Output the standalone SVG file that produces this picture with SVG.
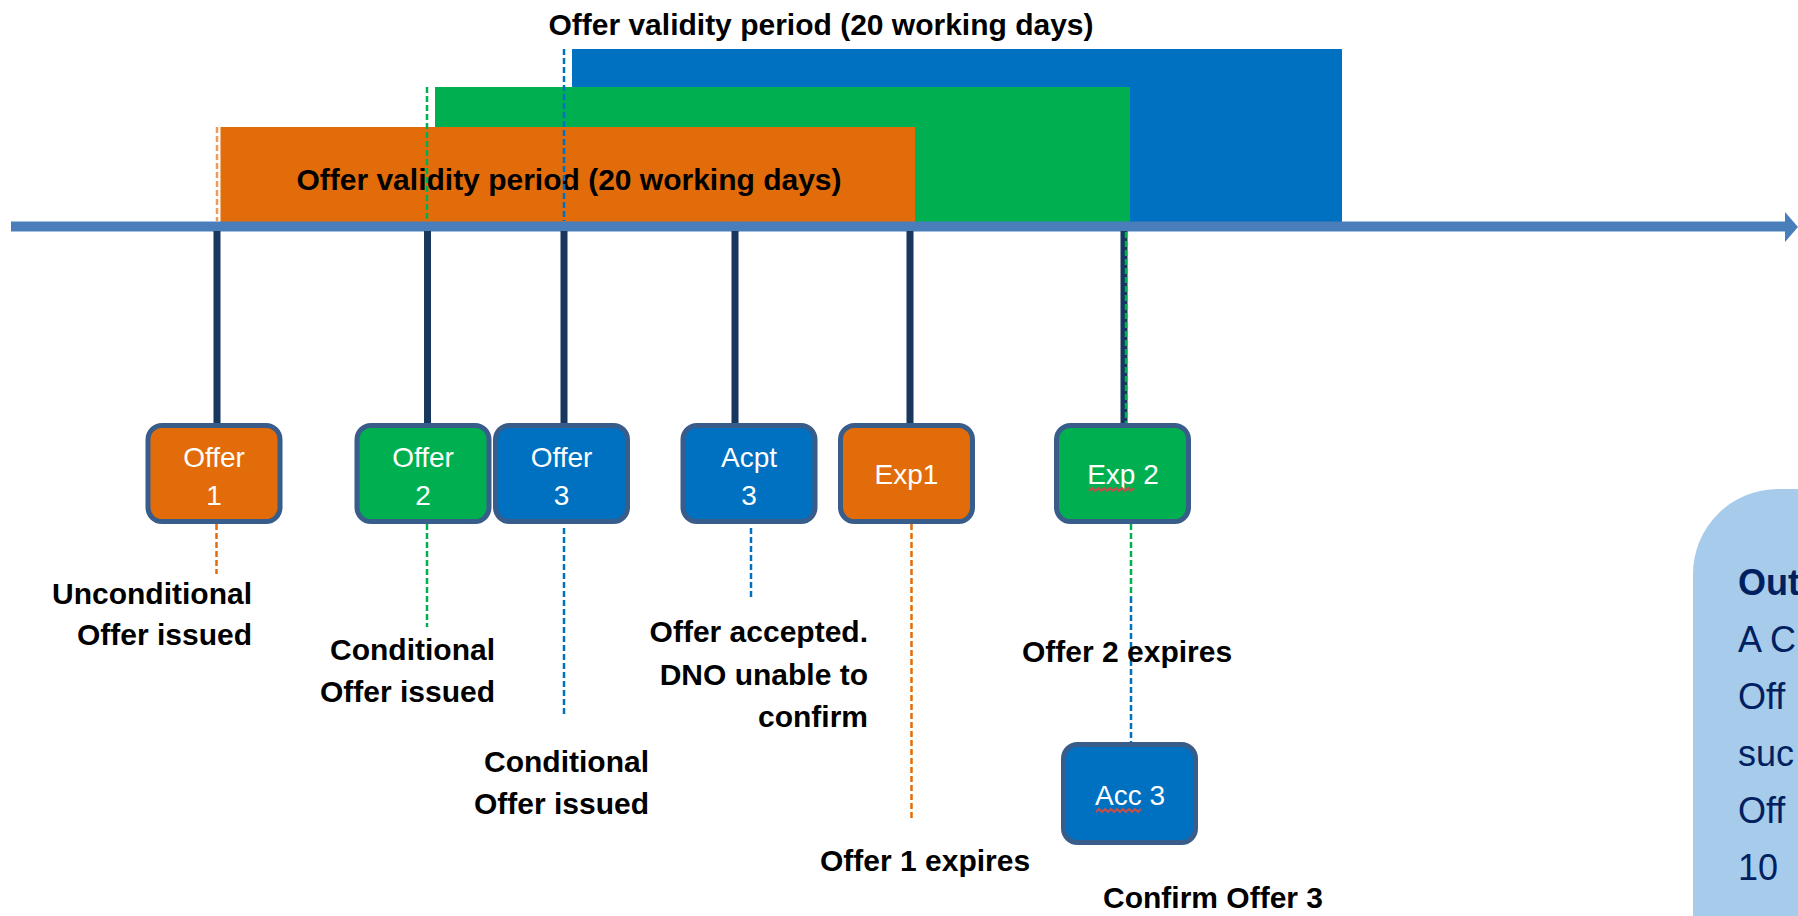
<svg xmlns="http://www.w3.org/2000/svg" width="1798" height="916" viewBox="0 0 1798 916">
<defs>
<style>
.lbl{font-family:"Liberation Sans",Arial,sans-serif;font-size:30px;font-weight:700;fill:#000}
.box{stroke:#385D8A;stroke-width:5}
.btxt{font-family:"Liberation Sans",Arial,sans-serif;font-size:28px;fill:#fff;text-anchor:middle}
.conn{stroke:#17375E;stroke-width:7;fill:none}
.dash{stroke-width:2.5;stroke-dasharray:6 3;fill:none}
.sq{stroke:#C0504D;stroke-width:2;fill:none}
.note{font-family:"Liberation Sans",Arial,sans-serif;font-size:36px;fill:#002060}
</style>
</defs>
<rect width="1798" height="916" fill="#fff"/>
<g id="validity-periods">
<rect x="572" y="49" width="770" height="173" fill="#0070C0"/>
<rect x="435" y="87" width="695" height="135" fill="#00B050"/>
<rect x="220.5" y="127" width="694.5" height="95" fill="#E36C0A"/>
<text class="lbl" x="821" y="35" text-anchor="middle">Offer validity period (20 working days)</text>
<text class="lbl" x="569" y="190" text-anchor="middle">Offer validity period (20 working days)</text>
</g>
<g id="connectors">
<line class="dash" x1="217" y1="127" x2="217" y2="221" stroke="#EE9A5A"/>
<line class="dash" x1="427" y1="87" x2="427" y2="221" stroke="#00B050"/>
<line class="dash" x1="564" y1="49" x2="564" y2="221" stroke="#0070C0"/>
<line x1="11" y1="226.5" x2="1786" y2="226.5" stroke="#4A7EBB" stroke-width="10"/>
<polygon points="1785,212 1798,227 1785,242" fill="#4A7EBB"/>
<line class="conn" x1="217" y1="231" x2="217" y2="424"/>
<line class="conn" x1="427.5" y1="231" x2="427.5" y2="424"/>
<line class="conn" x1="564" y1="231" x2="564" y2="424"/>
<line class="conn" x1="735" y1="231" x2="735" y2="424"/>
<line class="conn" x1="910" y1="231" x2="910" y2="424"/>
<line class="conn" x1="1124" y1="231" x2="1124" y2="424"/>
<line class="dash" x1="1126" y1="232" x2="1126" y2="424" stroke="#00B050" stroke-width="2"/>
<line class="dash" x1="216.5" y1="524" x2="216.5" y2="574" stroke="#E36C0A" stroke-width="2"/>
<line class="dash" x1="427" y1="524" x2="427" y2="627" stroke="#00B050" stroke-width="2"/>
<line class="dash" x1="564" y1="528" x2="564" y2="714" stroke="#0070C0" stroke-width="2"/>
<line class="dash" x1="751" y1="528" x2="751" y2="598" stroke="#0070C0" stroke-width="3" stroke-dasharray="8 4"/>
<line class="dash" x1="911.5" y1="524" x2="911.5" y2="820" stroke="#E36C0A" stroke-width="2"/>
<line class="dash" x1="1131" y1="524" x2="1131" y2="597" stroke="#00B050" stroke-width="2.5"/>
<line class="dash" x1="1131" y1="597" x2="1131" y2="742" stroke="#0070C0" stroke-width="2.5" stroke-dasharray="4 2"/>
</g>
<g id="node-offer1">
<rect class="box" x="148" y="425.5" width="132" height="96" rx="14" fill="#E36C0A"/>
<text class="btxt" x="214" y="467">Offer</text>
<text class="btxt" x="214" y="505">1</text>
</g>
<g id="node-offer2">
<rect class="box" x="357" y="425.5" width="132" height="96" rx="14" fill="#00B050"/>
<text class="btxt" x="423" y="467">Offer</text>
<text class="btxt" x="423" y="505">2</text>
</g>
<g id="node-offer3">
<rect class="box" x="495.5" y="425.5" width="132" height="96" rx="14" fill="#0070C0"/>
<text class="btxt" x="561.5" y="467">Offer</text>
<text class="btxt" x="561.5" y="505">3</text>
</g>
<g id="node-acpt3">
<rect class="box" x="683" y="425.5" width="132" height="96" rx="14" fill="#0070C0"/>
<text class="btxt" x="749" y="467">Acpt</text>
<text class="btxt" x="749" y="505">3</text>
</g>
<g id="node-exp1">
<rect class="box" x="840.5" y="425.5" width="132" height="96" rx="14" fill="#E36C0A"/>
<text class="btxt" x="906.5" y="484">Exp1</text>
</g>
<g id="node-exp2">
<rect class="box" x="1056.5" y="425.5" width="132" height="96" rx="14" fill="#00B050"/>
<text class="btxt" x="1123" y="484">Exp 2</text>
<polyline class="sq" points="1089,491 1092,488 1095,491 1098,488 1101,491 1104,488 1107,491 1110,488 1113,491 1116,488 1119,491 1122,488 1125,491 1128,488 1131,491 1134,488"/>
</g>
<g id="node-acc3">
<rect class="box" x="1063.5" y="744.5" width="132" height="98" rx="14" fill="#0070C0"/>
<text class="btxt" x="1130" y="805">Acc 3</text>
<polyline class="sq" points="1096,812 1099,809 1102,812 1105,809 1108,812 1111,809 1114,812 1117,809 1120,812 1123,809 1126,812 1129,809 1132,812 1135,809 1138,812 1141,809"/>
</g>
<g id="labels">
<text class="lbl" x="252" y="604" text-anchor="end">Unconditional</text>
<text class="lbl" x="252" y="645" text-anchor="end">Offer issued</text>
<text class="lbl" x="495" y="660" text-anchor="end">Conditional</text>
<text class="lbl" x="495" y="702" text-anchor="end">Offer issued</text>
<text class="lbl" x="649" y="772" text-anchor="end">Conditional</text>
<text class="lbl" x="649" y="814" text-anchor="end">Offer issued</text>
<text class="lbl" x="868" y="642" text-anchor="end">Offer accepted.</text>
<text class="lbl" x="868" y="685" text-anchor="end">DNO unable to</text>
<text class="lbl" x="868" y="727" text-anchor="end">confirm</text>
<text class="lbl" x="1022" y="662">Offer 2 expires</text>
<text class="lbl" x="820" y="871">Offer 1 expires</text>
<text class="lbl" x="1103" y="908">Confirm Offer 3</text>
</g>
<g id="outcome-note">
<path d="M1693,916 V574 A85,85 0 0 1 1778,489 H1800 V916 Z" fill="#A7CBEB"/>
<text class="note" x="1738" y="595" font-weight="700">Out</text>
<text class="note" x="1738" y="652">A C</text>
<text class="note" x="1738" y="709">Off</text>
<text class="note" x="1738" y="766">suc</text>
<text class="note" x="1738" y="823">Off</text>
<text class="note" x="1738" y="880">10</text>
</g>
</svg>
